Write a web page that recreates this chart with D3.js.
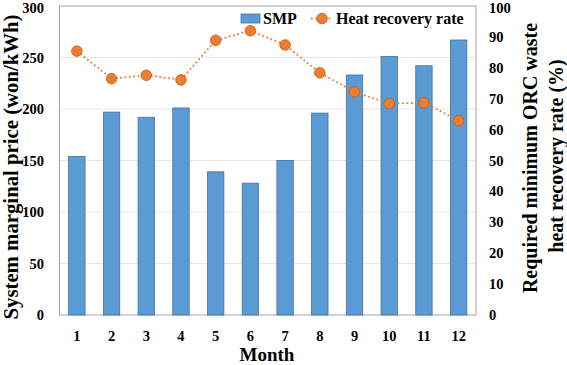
<!DOCTYPE html>
<html>
<head>
<meta charset="utf-8">
<script src="https://cdn.jsdelivr.net/npm/d3@7"></script>
<style>
  body { margin: 0; background: #fff; }
  text { font-family: "Liberation Serif", "Times New Roman", serif; font-weight: bold; fill: #000; }
</style>
</head>
<body>
<svg id="chart" width="567" height="365"></svg>
<script>
var months = ['1', '2', '3', '4', '5', '6', '7', '8', '9', '10', '11', '12'];
var smp = [154, 197, 192, 201, 139, 128, 150, 196, 233, 251, 242, 267];
var heatRate = [85.4, 76.5, 77.6, 76.1, 88.9, 92.0, 87.4, 78.4, 72.2, 68.4, 68.7, 62.9];
var leftTicks = [0, 50, 100, 150, 200, 250, 300];
var rightTicks = [0, 10, 20, 30, 40, 50, 60, 70, 80, 90, 100];

var svg = d3.select('#chart');
var plotL = 59.5, plotR = 476, plotT = 6, plotB = 315;

var xc = d3.scaleBand().domain(months).range([plotL, plotR]);
var yL = d3.scaleLinear().domain([0, 300]).range([plotB, plotT]);
var yR = d3.scaleLinear().domain([0, 100]).range([plotB, plotT]);

function mid(m) { return xc(m) + xc.bandwidth() / 2; }

// gridlines
svg.append('g').selectAll('line')
  .data(leftTicks.slice(1, -1))
  .enter().append('line')
  .attr('x1', plotL).attr('x2', plotR)
  .attr('y1', function(d) { return yL(d); })
  .attr('y2', function(d) { return yL(d); })
  .attr('stroke', '#e6e6e6').attr('stroke-width', 1);

// plot border
svg.append('rect')
  .attr('x', plotL).attr('y', plotT)
  .attr('width', plotR - plotL).attr('height', plotB - plotT)
  .attr('fill', 'none').attr('stroke', '#a6a6a6').attr('stroke-width', 1);

// bars
svg.append('g').selectAll('rect')
  .data(smp)
  .enter().append('rect')
  .attr('x', function(d, i) { return mid(months[i]) - 8.2; })
  .attr('width', 16.4)
  .attr('y', function(d) { return yL(d); })
  .attr('height', function(d) { return plotB - yL(d); })
  .attr('fill', '#5b9bd5').attr('stroke', '#41719c').attr('stroke-width', 0.8);

// line
var line = d3.line()
  .x(function(d, i) { return mid(months[i]); })
  .y(function(d) { return yR(d); });

svg.append('path')
  .datum(heatRate)
  .attr('d', line)
  .attr('fill', 'none').attr('stroke', '#ed7d31')
  .attr('stroke-width', 1.8).attr('stroke-dasharray', '1.8,2.6');

svg.append('g').selectAll('circle')
  .data(heatRate)
  .enter().append('circle')
  .attr('cx', function(d, i) { return mid(months[i]); })
  .attr('cy', function(d) { return yR(d); })
  .attr('r', 5.3)
  .attr('fill', '#ed7d31').attr('stroke', '#c55a11').attr('stroke-width', 0.8);

// left ticks
svg.append('g').selectAll('text')
  .data(leftTicks)
  .enter().append('text')
  .attr('x', 44).attr('y', function(d) { return Math.max(yL(d) + 5, 13); })
  .attr('text-anchor', 'end').attr('font-size', 14.5)
  .text(function(d) { return d; });

// right ticks
svg.append('g').selectAll('text')
  .data(rightTicks)
  .enter().append('text')
  .attr('x', 489).attr('y', function(d) { return Math.max(yR(d) + 5, 13); })
  .attr('text-anchor', 'start').attr('font-size', 14.5)
  .text(function(d) { return d; });

// month labels
svg.append('g').selectAll('text')
  .data(months)
  .enter().append('text')
  .attr('x', function(d) { return mid(d); })
  .attr('y', 340.5)
  .attr('text-anchor', 'middle').attr('font-size', 14.5)
  .text(function(d) { return d; });

// axis titles
svg.append('text')
  .attr('x', 267).attr('y', 361)
  .attr('text-anchor', 'middle').attr('font-size', 19)
  .text('Month');

svg.append('text')
  .attr('transform', 'translate(18,167) rotate(-90)')
  .attr('text-anchor', 'middle').attr('font-size', 20.5)
  .attr('textLength', 305).attr('lengthAdjust', 'spacingAndGlyphs')
  .text('System marginal price (won/kWh)');

svg.append('text')
  .attr('transform', 'translate(537,158) rotate(-90)')
  .attr('text-anchor', 'middle').attr('font-size', 20)
  .text('Required minimum ORC waste');

svg.append('text')
  .attr('transform', 'translate(563,156) rotate(-90)')
  .attr('text-anchor', 'middle').attr('font-size', 20)
  .text('heat recovery rate (%)');

// legend
var lg = svg.append('g');
lg.append('rect')
  .attr('x', 241).attr('y', 14).attr('width', 19).attr('height', 9)
  .attr('fill', '#5b9bd5').attr('stroke', '#41719c').attr('stroke-width', 0.8);
lg.append('text').attr('x', 263).attr('y', 24).attr('font-size', 16).text('SMP');
lg.append('line')
  .attr('x1', 311).attr('x2', 333).attr('y1', 18.5).attr('y2', 18.5)
  .attr('stroke', '#ed7d31').attr('stroke-width', 1.8).attr('stroke-dasharray', '1.8,2.6');
lg.append('circle')
  .attr('cx', 322).attr('cy', 18.5).attr('r', 5.3)
  .attr('fill', '#ed7d31').attr('stroke', '#c55a11').attr('stroke-width', 0.8);
lg.append('text').attr('x', 336).attr('y', 24).attr('font-size', 16).text('Heat recovery rate');
</script>
</body>
</html>
